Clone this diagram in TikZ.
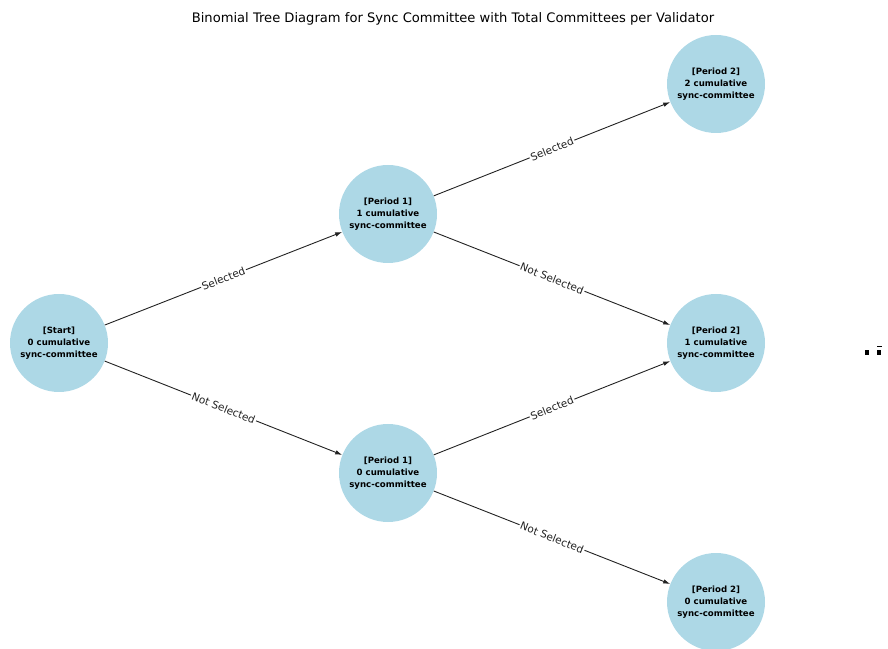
\documentclass[tikz,border=0pt]{standalone}
\usepackage{fontspec}
\setmainfont{DejaVu Sans}
\usetikzlibrary{arrows.meta}
\definecolor{nodeblue}{HTML}{ADD8E6}
\definecolor{edgegray}{HTML}{222222}
\tikzset{
  state/.style={circle, fill=nodeblue, draw=none, minimum size=98pt, inner sep=0pt,
    align=center, font=\fontsize{8.6}{12}\selectfont\bfseries},
  edge/.style={draw=edgegray, line width=0.9pt, -{Latex[length=7pt,width=4.5pt]}},
  elabel/.style={midway, sloped, fill=white, inner sep=1.2pt, text=edgegray,
    font=\fontsize{10.5}{12}\selectfont},
}
\begin{document}
\begin{tikzpicture}[x=1pt,y=1pt]
\useasboundingbox (0,0) rectangle (888,648);
\node[font=\fontsize{13.1}{15}\selectfont] (title) at (453,629) {Binomial Tree Diagram for Sync Committee with Total Committees per Validator};
\node[state] (s) at (59,305) {[Start]\\0 cumulative\\sync-committee};
\node[state] (a1) at (388,434) {[Period 1]\\1 cumulative\\sync-committee};
\node[state] (a0) at (388,175) {[Period 1]\\0 cumulative\\sync-committee};
\node[state] (b2) at (716,564) {[Period 2]\\2 cumulative\\sync-committee};
\node[state] (b1) at (716,305) {[Period 2]\\1 cumulative\\sync-committee};
\node[state] (b0) at (716,46) {[Period 2]\\0 cumulative\\sync-committee};
\draw[edge] (s) -- node[elabel] {Selected} (a1);
\draw[edge] (s) -- node[elabel] {Not Selected} (a0);
\draw[edge] (a1) -- node[elabel] {Selected} (b2);
\draw[edge] (a1) -- node[elabel] {Not Selected} (b1);
\draw[edge] (a0) -- node[elabel] {Selected} (b1);
\draw[edge] (a0) -- node[elabel] {Not Selected} (b0);
\fill (865,293) rectangle (869,298);
\fill (877,293) rectangle (881,298);
\fill (877,301) rectangle (882,302);
\end{tikzpicture}
\end{document}
